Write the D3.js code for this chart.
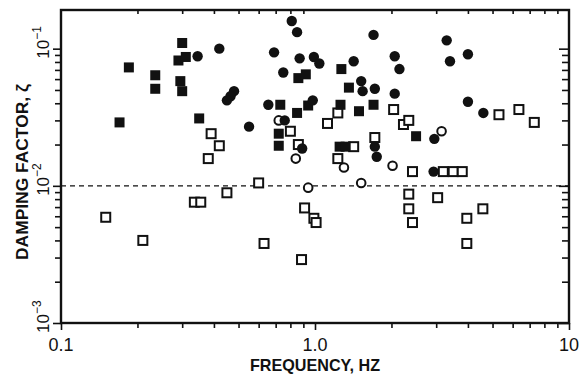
<!DOCTYPE html>
<html>
<head>
<meta charset="utf-8">
<script src="https://cdn.jsdelivr.net/npm/d3@7"></script>
<style>
  body { margin: 0; background: #fff; }
  svg { display: block; }
  text { font-family: "Liberation Sans", Arial, sans-serif; fill: #111; }
</style>
</head>
<body>
<svg class="chart"></svg>
<script>
// [frequency Hz, damping factor]
const filledSquares = [
  [0.17, 0.029], [0.185, 0.073], [0.235, 0.064], [0.235, 0.051],
  [0.30, 0.11], [0.29, 0.082], [0.31, 0.087], [0.295, 0.058], [0.30, 0.049],
  [0.35, 0.031], [0.86, 0.061], [0.92, 0.065], [0.73, 0.039], [0.94, 0.0385],
  [0.85, 0.034], [0.72, 0.024], [0.72, 0.0196], [1.27, 0.071], [1.36, 0.052],
  [1.26, 0.039], [1.49, 0.035], [1.70, 0.039], [2.5, 0.023], [1.25, 0.0193],
  [1.32, 0.0193]
];
const filledCircles = [
  [0.345, 0.088], [0.42, 0.10], [0.48, 0.049], [0.465, 0.045], [0.45, 0.042],
  [0.55, 0.027], [0.655, 0.039], [0.81, 0.159], [0.85, 0.132], [0.69, 0.094],
  [0.87, 0.085], [0.99, 0.087], [1.04, 0.078], [0.75, 0.067], [0.98, 0.042],
  [0.76, 0.030], [0.89, 0.0187], [1.70, 0.126], [1.42, 0.081], [2.06, 0.088],
  [2.15, 0.071], [1.52, 0.058], [1.54, 0.049], [1.72, 0.051], [2.06, 0.047],
  [3.3, 0.115], [4.0, 0.091], [3.4, 0.081], [4.0, 0.041], [4.6, 0.034],
  [2.95, 0.022], [1.75, 0.0163], [1.72, 0.0193], [2.93, 0.0127]
];
const openSquares = [
  [0.39, 0.024], [0.42, 0.0196], [0.38, 0.0158], [0.80, 0.025], [0.86, 0.020],
  [1.12, 0.0285], [1.23, 0.034], [1.42, 0.0193], [1.23, 0.0158], [1.72, 0.0225],
  [2.04, 0.036], [2.23, 0.028], [2.34, 0.030], [5.3, 0.033], [6.35, 0.036],
  [7.3, 0.029], [2.42, 0.0127], [3.2, 0.0127], [3.5, 0.0127], [3.8, 0.0127],
  [0.15, 0.0059], [0.21, 0.0040], [0.335, 0.0076], [0.355, 0.0076], [0.45, 0.0089],
  [0.60, 0.0105], [0.63, 0.0038], [0.91, 0.0069], [0.99, 0.0058], [1.01, 0.0054],
  [0.885, 0.0029], [2.34, 0.0087], [2.34, 0.0068], [2.42, 0.0054], [3.04, 0.0082],
  [3.96, 0.0058], [4.58, 0.0068], [3.96, 0.0038]
];
const openCircles = [
  [0.72, 0.030], [0.84, 0.0158], [1.30, 0.0136], [2.02, 0.014], [3.15, 0.025],
  [0.94, 0.0097], [1.52, 0.0105]
];
const refLine = 0.01;
const xMajor = [0.1, 1, 10];
const xLabels = ["0.1", "1.0", "10"];
const yMajor = [0.1, 0.01, 0.001];
const yExponents = ["\u22121", "\u22122", "\u22123"];

const margin = { top: 10, right: 13, bottom: 53, left: 61 },
      width = 582 - margin.left - margin.right,
      height = 376 - margin.top - margin.bottom;

const svg = d3.select(".chart")
    .attr("width", 582)
    .attr("height", 376);

const g = svg.append("g")
    .attr("transform", `translate(${margin.left}, ${margin.top})`);

const x = d3.scaleLog().domain([0.1, 10]).range([0, width]);
const y = d3.scaleLog().domain([0.001, 0.1914]).range([height, 0]);

const minorX = [];
[0.1, 1].forEach(b => { for (let k = 2; k <= 9; k++) minorX.push(b * k); });
const minorY = [];
[0.001, 0.01, 0.1].forEach(b => { for (let k = 2; k <= 9; k++) if (b * k < 0.19) minorY.push(b * k); });

function styleAxis(sel) {
  sel.select(".domain").remove();
  sel.selectAll("line").attr("stroke", "#111").attr("stroke-width", 1.6);
}

// bottom ticks (outward)
g.append("g").attr("transform", `translate(0, ${height})`)
  .call(d3.axisBottom(x).tickValues(minorX).tickSize(5).tickFormat(""))
  .call(styleAxis);
g.append("g").attr("transform", `translate(0, ${height})`)
  .call(d3.axisBottom(x).tickValues(xMajor).tickSize(7).tickFormat(""))
  .call(styleAxis);
// top ticks (inward)
g.append("g")
  .call(d3.axisBottom(x).tickValues(minorX).tickSize(4).tickFormat(""))
  .call(styleAxis);
// left ticks (outward)
g.append("g")
  .call(d3.axisLeft(y).tickValues(minorY).tickSize(6).tickFormat(""))
  .call(styleAxis);
g.append("g")
  .call(d3.axisLeft(y).tickValues(yMajor).tickSize(8).tickFormat(""))
  .call(styleAxis);
// right ticks (inward)
g.append("g").attr("transform", `translate(${width}, 0)`)
  .call(d3.axisLeft(y).tickValues(minorY).tickSize(7).tickFormat(""))
  .call(styleAxis);
g.append("g").attr("transform", `translate(${width}, 0)`)
  .call(d3.axisLeft(y).tickValues(yMajor).tickSize(10).tickFormat(""))
  .call(styleAxis);

// frame
g.append("rect")
  .attr("width", width).attr("height", height)
  .attr("fill", "none").attr("stroke", "#111").attr("stroke-width", 2.4);

// x tick labels
g.selectAll(".xlab")
  .data(xMajor)
  .enter().append("text")
  .attr("x", d => x(d))
  .attr("y", height + 28)
  .attr("text-anchor", "middle")
  .attr("font-size", 18)
  .text((d, i) => xLabels[i]);

// y tick labels, rotated, with exponent
const yl = g.selectAll(".ylab")
  .data(yMajor)
  .enter().append("text")
  .attr("transform", d => `translate(-12, ${y(d)}) rotate(-90)`)
  .attr("x", -10)
  .attr("font-size", 17);
yl.append("tspan").text("10");
yl.append("tspan").attr("dy", -8).attr("font-size", 12).text((d, i) => yExponents[i]);

// axis titles (condensed look via textLength)
svg.append("text")
  .attr("x", margin.left + x(1))
  .attr("y", 371)
  .attr("text-anchor", "middle")
  .attr("font-size", 17)
  .attr("font-weight", "bold")
  .attr("textLength", 130)
  .attr("lengthAdjust", "spacingAndGlyphs")
  .text("FREQUENCY, HZ");

svg.append("text")
  .attr("transform", `translate(28, 172) rotate(-90)`)
  .attr("text-anchor", "middle")
  .attr("font-size", 17)
  .attr("font-weight", "bold")
  .attr("textLength", 176)
  .attr("lengthAdjust", "spacingAndGlyphs")
  .text("DAMPING FACTOR, \u03B6");

// dashed reference line
g.append("line")
  .attr("x1", 0).attr("x2", width)
  .attr("y1", y(refLine)).attr("y2", y(refLine))
  .attr("stroke", "#111").attr("stroke-width", 1.3)
  .attr("stroke-dasharray", "5,4");

// markers
g.selectAll(".osq")
  .data(openSquares)
  .enter().append("rect")
  .attr("x", d => x(d[0]) - 4.5)
  .attr("y", d => y(d[1]) - 4.5)
  .attr("width", 9).attr("height", 9)
  .attr("fill", "#fff").attr("stroke", "#111").attr("stroke-width", 2);

g.selectAll(".oci")
  .data(openCircles)
  .enter().append("circle")
  .attr("cx", d => x(d[0]))
  .attr("cy", d => y(d[1]))
  .attr("r", 4.3)
  .attr("fill", "#fff").attr("stroke", "#111").attr("stroke-width", 2);

g.selectAll(".fsq")
  .data(filledSquares)
  .enter().append("rect")
  .attr("x", d => x(d[0]) - 5)
  .attr("y", d => y(d[1]) - 5)
  .attr("width", 10).attr("height", 10)
  .attr("fill", "#111");

g.selectAll(".fci")
  .data(filledCircles)
  .enter().append("circle")
  .attr("cx", d => x(d[0]))
  .attr("cy", d => y(d[1]))
  .attr("r", 5.2)
  .attr("fill", "#111");
</script>
</body>
</html>
